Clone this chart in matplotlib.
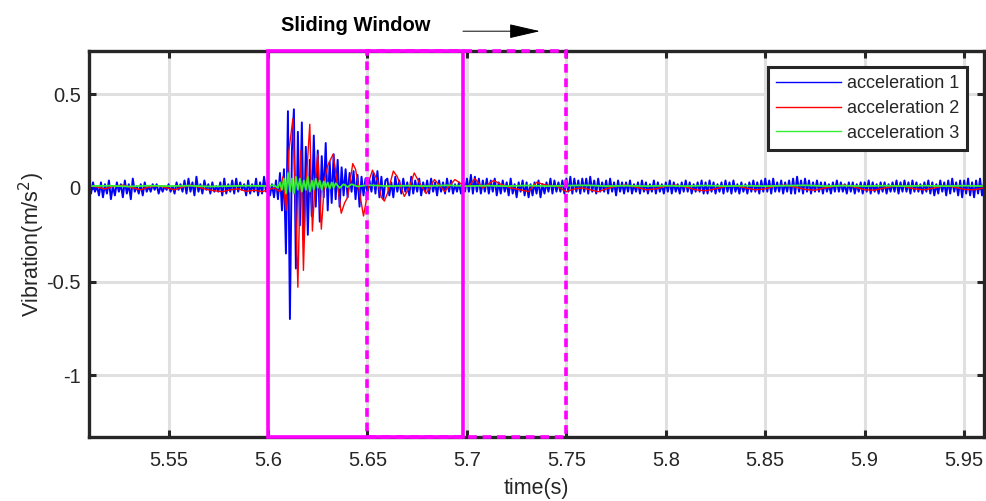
import numpy as np
import matplotlib
matplotlib.use("Agg")
import matplotlib.pyplot as plt
from matplotlib.patches import Rectangle

plt.rcParams['font.family'] = ['Liberation Sans', 'DejaVu Sans']
plt.rcParams['axes.unicode_minus'] = False

# acceleration 1, sampled every 1 ms from 5.510 s
acc1_t0 = 5.510
acc1_dt = 0.001
acc1 = [
    # 5.510 - 5.549
    0.02, -0.03, 0.03, -0.02, 0.01, -0.04, 0.03, -0.05, 0.02, -0.03,
    0.04, -0.06, 0.01, -0.04, 0.03, -0.02, 0.02, -0.05, 0.04, -0.03,
    0.02, -0.06, 0.05, -0.02, 0.01, -0.03, 0.02, -0.04, 0.03, -0.02,
    0.01, -0.02, 0.02, -0.01, 0.02, -0.03, 0.01, -0.02, 0.01, -0.01,
    # 5.550 - 5.599
    0.02, -0.02, 0.01, -0.03, 0.03, -0.01, 0.02, -0.02, 0.04, -0.03,
    0.05, -0.02, 0.03, -0.04, 0.06, -0.02, 0.02, -0.03, 0.04, -0.01,
    0.02, -0.03, 0.03, -0.02, 0.01, -0.02, 0.03, -0.04, 0.05, -0.03,
    0.02, -0.02, 0.04, -0.03, 0.05, -0.02, 0.03, -0.01, 0.02, -0.04,
    0.04, -0.03, 0.02, -0.02, 0.05, -0.04, 0.03, -0.03, 0.06, -0.02,
    # 5.600 - 5.659 (impact)
    0.03, -0.04, 0.02, -0.05, 0.04, -0.06, 0.08, -0.12, 0.10, -0.35,
    0.41, -0.70, 0.20, 0.42, -0.43, 0.30, -0.20, 0.35, -0.28, 0.22,
    -0.25, 0.15, -0.15, 0.28, -0.10, 0.20, -0.18, 0.17, -0.05, 0.24,
    -0.12, 0.14, -0.08, 0.18, -0.06, 0.15, -0.10, 0.11, -0.04, 0.10,
    -0.05, 0.08, -0.02, 0.09, -0.06, 0.07, -0.10, 0.06, -0.04, 0.05,
    -0.03, 0.04, -0.02, 0.08, -0.03, 0.09, -0.05, 0.06, -0.06, 0.04,
    # 5.660 - 5.759
    0.05, -0.04, 0.03, -0.05, 0.06, -0.02, 0.04, -0.03, 0.05, -0.02,
    0.03, -0.04, 0.06, -0.03, 0.04, -0.02, 0.05, -0.04, 0.03, -0.02,
    0.04, -0.03, 0.05, -0.02, 0.03, -0.04, 0.04, -0.02, 0.03, -0.03,
    0.05, -0.02, 0.04, -0.03, 0.02, -0.02, 0.03, -0.03, 0.04, -0.02,
    0.05, -0.02, 0.07, -0.03, 0.06, -0.02, 0.05, -0.03, 0.04, -0.02,
    0.05, -0.03, 0.04, -0.02, 0.05, -0.04, 0.03, -0.03, 0.04, -0.02,
    0.03, -0.04, 0.05, -0.03, 0.02, -0.05, 0.03, -0.02, 0.04, -0.04,
    0.03, -0.05, 0.02, -0.04, 0.03, -0.03, 0.04, -0.05, 0.02, -0.03,
    0.03, -0.02, 0.05, -0.03, 0.04, -0.02, 0.03, -0.02, 0.04, -0.03,
    0.05, -0.02, 0.06, -0.03, 0.05, -0.02, 0.04, -0.03, 0.05, -0.02,
    # 5.760 - 5.960
    0.05, -0.03, 0.06, -0.02, 0.04, -0.03, 0.05, -0.02, 0.03, -0.02,
    0.04, -0.03, 0.05, -0.02, 0.03, -0.04, 0.04, -0.02, 0.03, -0.03,
    0.03, -0.02, 0.04, -0.03, 0.02, -0.02, 0.03, -0.03, 0.04, -0.02,
    0.03, -0.03, 0.02, -0.02, 0.04, -0.03, 0.03, -0.02, 0.02, -0.03,
    0.03, -0.02, 0.04, -0.03, 0.03, -0.02, 0.02, -0.03, 0.03, -0.02,
    0.04, -0.02, 0.03, -0.03, 0.02, -0.02, 0.03, -0.02, 0.04, -0.03,
    0.03, -0.03, 0.04, -0.02, 0.03, -0.03, 0.02, -0.02, 0.03, -0.03,
    0.04, -0.02, 0.03, -0.03, 0.04, -0.02, 0.02, -0.03, 0.03, -0.02,
    0.02, -0.03, 0.03, -0.02, 0.04, -0.02, 0.03, -0.03, 0.04, -0.02,
    0.05, -0.02, 0.04, -0.03, 0.05, -0.02, 0.03, -0.02, 0.04, -0.03,
    0.03, -0.02, 0.04, -0.03, 0.05, -0.03, 0.06, -0.02, 0.04, -0.03,
    0.05, -0.02, 0.04, -0.03, 0.03, -0.02, 0.04, -0.02, 0.03, -0.03,
    0.03, -0.02, 0.02, -0.03, 0.03, -0.02, 0.04, -0.02, 0.03, -0.02,
    0.02, -0.03, 0.03, -0.02, 0.03, -0.03, 0.02, -0.02, 0.03, -0.03,
    0.03, -0.02, 0.04, -0.03, 0.03, -0.02, 0.02, -0.03, 0.03, -0.02,
    0.03, -0.03, 0.02, -0.02, 0.03, -0.02, 0.04, -0.03, 0.03, -0.02,
    0.04, -0.02, 0.03, -0.03, 0.04, -0.02, 0.03, -0.02, 0.02, -0.03,
    0.03, -0.02, 0.04, -0.03, 0.03, -0.04, 0.02, -0.03, 0.04, -0.02,
    0.03, -0.04, 0.04, -0.03, 0.05, -0.02, 0.03, -0.04, 0.04, -0.05,
    0.04, -0.03, 0.05, -0.04, 0.03, -0.05, 0.04, -0.03, 0.05, -0.04,
    0.03,
]
assert len(acc1) == 451, len(acc1)

# acceleration 2 (time, value)
acc2_t = [5.510, 5.514, 5.518, 5.522, 5.527, 5.532, 5.536, 5.540, 5.545, 5.549,
          5.553, 5.557, 5.561, 5.565, 5.569, 5.573, 5.577, 5.581, 5.585, 5.589,
          5.593, 5.597, 5.600, 5.603, 5.606, 5.6075, 5.609, 5.6105, 5.6125, 5.6135,
          5.615, 5.6165, 5.6178, 5.619, 5.621, 5.6223, 5.6235, 5.625, 5.6268, 5.6285,
          5.630, 5.6327, 5.6345, 5.6368, 5.6385, 5.640, 5.6426, 5.644, 5.6455, 5.648,
          5.6495, 5.651, 5.6525, 5.655, 5.657, 5.6585, 5.660, 5.663, 5.665, 5.6685,
          5.671, 5.6735, 5.676, 5.6795, 5.6837, 5.6888, 5.694, 5.698, 5.701, 5.704,
          5.708, 5.7134, 5.717, 5.722, 5.727, 5.731, 5.735, 5.740, 5.745, 5.750,
          5.754, 5.758, 5.762, 5.766, 5.770, 5.775, 5.780, 5.785, 5.790, 5.795,
          5.800, 5.805, 5.810, 5.815, 5.820, 5.825, 5.830, 5.835, 5.840, 5.845,
          5.850, 5.855, 5.860, 5.865, 5.870, 5.875, 5.880, 5.885, 5.890, 5.895,
          5.900, 5.905, 5.910, 5.915, 5.920, 5.925, 5.930, 5.935, 5.940, 5.945,
          5.950, 5.955, 5.960]
acc2 = [0.012, 0.005, -0.005, 0.008, 0.015, 0.0, -0.01, 0.005, 0.012, 0.0,
        -0.01, 0.005, 0.015, 0.005, -0.008, -0.015, -0.02, -0.01, -0.005, -0.018,
        -0.012, -0.02, -0.01, 0.0, -0.02, 0.06, -0.12, 0.2, 0.37, 0.05,
        -0.53, 0.2, -0.44, 0.0, 0.34, -0.23, 0.0, 0.18, -0.22, 0.05,
        0.12, 0.18, 0.05, -0.135, -0.08, -0.05, 0.13, 0.1, 0.01, -0.15,
        -0.06, 0.045, 0.095, 0.04, -0.05, -0.07, -0.03, 0.09, 0.06, -0.045,
        0.0, 0.08, 0.03, -0.03, 0.045, -0.018, 0.045, 0.015, 0.01, 0.05,
        0.0, 0.04, 0.02, 0.0, -0.01, -0.02, 0.03, 0.015, 0.01, -0.02,
        -0.005, 0.0, -0.01, -0.02, -0.005, 0.01, 0.015, 0.005, -0.01, -0.005,
        0.01, 0.015, 0.005, -0.01, -0.015, -0.005, 0.008, 0.012, 0.0, -0.01,
        -0.005, 0.01, 0.015, 0.005, -0.008, -0.012, 0.0, 0.01, 0.015, 0.005,
        -0.01, -0.012, 0.0, 0.01, 0.008, -0.005, -0.01, 0.0, 0.012, 0.005,
        -0.008, -0.01, 0.0]

# acceleration 3 (time, value)
acc3_t = [5.510, 5.520, 5.530, 5.540, 5.550, 5.560, 5.570, 5.580, 5.590, 5.600,
          5.603, 5.605, 5.606, 5.607, 5.608, 5.609, 5.610, 5.611, 5.612, 5.613,
          5.614, 5.615, 5.616, 5.617, 5.618, 5.619, 5.620, 5.621, 5.622, 5.623,
          5.624, 5.625, 5.626, 5.627, 5.628, 5.629, 5.630, 5.631, 5.632, 5.633,
          5.634, 5.636, 5.638, 5.640, 5.642, 5.645, 5.650, 5.660, 5.670, 5.680,
          5.690, 5.700, 5.710, 5.720, 5.730, 5.740, 5.750, 5.760, 5.770, 5.780,
          5.790, 5.800, 5.810, 5.820, 5.830, 5.840, 5.850, 5.860, 5.870, 5.880,
          5.890, 5.900, 5.910, 5.920, 5.930, 5.940, 5.950, 5.960]
acc3 = [0.01, 0.012, 0.008, 0.012, 0.01, 0.012, 0.008, 0.01, 0.012, 0.01,
        0.015, 0.0, 0.03, -0.01, 0.05, -0.03, 0.08, -0.02, 0.05, -0.03,
        0.06, -0.01, 0.05, -0.02, 0.04, -0.01, 0.06, -0.02, 0.04, -0.01,
        0.05, 0.0, 0.04, -0.01, 0.035, 0.0, 0.03, -0.005, 0.03, 0.0,
        0.025, 0.0, 0.02, 0.005, 0.02, 0.008, 0.015, 0.01, 0.012, 0.01,
        0.014, 0.01, 0.012, 0.01, 0.013, 0.01, 0.012, 0.014, 0.01, 0.012,
        0.01, 0.012, 0.01, 0.013, 0.01, 0.012, 0.01, 0.012, 0.014, 0.01,
        0.012, 0.01, 0.012, 0.01, 0.012, 0.01, 0.012, 0.01]

# sliding windows (s)
win_now = (5.600, 5.698)
win_next = (5.650, 5.750)

x_ticks = [5.55, 5.6, 5.65, 5.7, 5.75, 5.8, 5.85, 5.9, 5.95]
y_ticks = [-1, -0.5, 0, 0.5]

dark = '#262626'
magenta = '#ff00ff'

fig = plt.figure(figsize=(9.86, 5.01), dpi=100)
ax = fig.add_axes([0.0903, 0.1277, 0.9077, 0.770])

t1 = acc1_t0 + acc1_dt * np.arange(len(acc1))
ax.plot(t1, acc1, '-', color='#0000ff', lw=1.4, label='acceleration 1')
ax.plot(acc2_t, acc2, '-', color='#ff0000', lw=1.0, label='acceleration 2')
ax.plot(acc3_t, acc3, '-', color='#33ee33', lw=1.3, label='acceleration 3')

ax.set_xlim(5.51, 5.96)
ax.set_ylim(-1.33, 0.73)
ax.set_xticks(x_ticks)
ax.set_xticklabels(['%g' % v for v in x_ticks])
ax.set_yticks(y_ticks)
ax.set_yticklabels(['%g' % v for v in y_ticks])
ax.grid(True, color='#e0e0e0', lw=2.2)
ax.set_axisbelow(True)
ax.tick_params(direction='in', length=5, width=2.2, colors=dark,
               labelsize=14.5, top=True, right=True)
ax.tick_params(axis='x', pad=10)
ax.tick_params(axis='y', pad=6)
for s in ax.spines.values():
    s.set_linewidth(2.4)
    s.set_color(dark)

ax.set_xlabel('time(s)', fontsize=15.5, color=dark, labelpad=5.5)
ax.set_ylabel('Vibration(m/s$^2$)', fontsize=15.5, color=dark, labelpad=-0.5)

trans = ax.get_xaxis_transform()
ax.add_patch(Rectangle((win_next[0], 0), win_next[1] - win_next[0], 1, transform=trans,
                       fill=False, ec=magenta, lw=2.6, ls=(0, (2.4, 1.6)),
                       clip_on=False, zorder=5))
ax.add_patch(Rectangle((win_now[0], 0), win_now[1] - win_now[0], 1, transform=trans,
                       fill=False, ec=magenta, lw=2.6, clip_on=False, zorder=6))

ax.text(5.6443, 1.066, 'Sliding Window', transform=trans, ha='center', va='center',
        fontsize=14.5, fontweight='bold', color='black')
ax.annotate('', xy=(5.7367, 1.052), xytext=(5.698, 1.052),
            xycoords=trans, textcoords=trans,
            arrowprops=dict(arrowstyle='-|>,head_length=1.3,head_width=0.3',
                            mutation_scale=15, color='black', lw=0.7,
                            shrinkA=0, shrinkB=0))

leg = ax.legend(loc='upper right', bbox_to_anchor=(0.981, 0.9585), borderaxespad=0,
                fontsize=13, fancybox=False, framealpha=1, edgecolor=dark,
                handlelength=3.6, handletextpad=0.3, labelspacing=0.42,
                borderpad=0.45)
leg.get_frame().set_linewidth(2.2)
for txt in leg.get_texts():
    txt.set_color(dark)
for ln in leg.get_lines():
    ln.set_linewidth(1.0)
leg.set_zorder(7)

fig.savefig('out.png', dpi=100)
